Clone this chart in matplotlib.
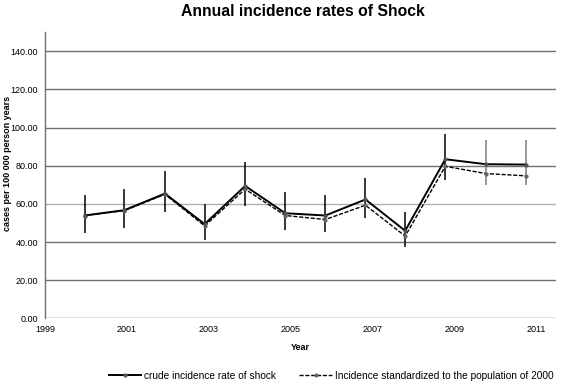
import matplotlib.pyplot as plt

plt.rcParams['font.family'] = ['Liberation Sans', 'DejaVu Sans']

# point positions on the year axis
years = [1999.97, 2000.94, 2001.93, 2002.90, 2003.89, 2004.87,
         2005.85, 2006.83, 2007.80, 2008.78, 2009.77, 2010.75]
crude = [53.9, 56.7, 65.4, 49.4, 69.4, 55.1, 53.9, 62.3, 45.9, 83.4, 80.8, 80.6]
crude_lo = [44.8, 47.4, 55.5, 40.8, 59.0, 46.1, 45.0, 52.8, 37.5, 72.4, 69.8, 69.8]
crude_hi = [64.5, 68.0, 77.1, 59.8, 81.7, 66.0, 64.5, 73.6, 55.5, 96.5, 93.4, 93.4]
standard = [53.9, 56.5, 65.0, 48.5, 67.7, 53.9, 51.8, 59.3, 43.1, 79.7, 75.9, 74.7]

yticks = [0, 20, 40, 60, 80, 100, 120, 140]
xticks = [1999, 2001, 2003, 2005, 2007, 2009, 2011]

fig = plt.figure(figsize=(5.66, 3.82), dpi=100)
ax = fig.add_axes([0.0795, 0.1667, 0.9025, 0.749])

# gridlines (60 drawn lighter, as in the original)
for v in yticks:
    col = '#b0b0b0' if v == 60 else '#707070'
    ax.axhline(v, color=col, lw=1.0, zorder=1)

# confidence intervals
for i, x in enumerate(years):
    col = '#7a7a7a' if i >= 10 else 'black'
    ax.vlines(x, crude_lo[i], crude_hi[i], color=col, lw=1.1, zorder=2)

ax.plot(years, standard, color='black', ls=(0, (3, 1.2)), lw=1.0,
        marker='o', ms=2, mfc='#666666', mec='#666666', zorder=3,
        label='Incidence standardized to the population of 2000')
ax.plot(years, crude, color='black', lw=1.4,
        marker='o', ms=2, mfc='#555555', mec='#555555', zorder=4,
        label='crude incidence rate of shock')

ax.set_xlim(1999, 2011.48)
ax.set_ylim(0, 150)
ax.set_xticks(xticks)
ax.set_xticklabels([str(x) for x in xticks])
ax.set_yticks(yticks)
ax.set_yticklabels([f'{v:.2f}' for v in yticks])
ax.tick_params(length=0, labelsize=6.5, pad=5)

for s in ['top', 'right', 'bottom']:
    ax.spines[s].set_visible(False)
ax.spines['left'].set_color('#707070')
ax.spines['left'].set_linewidth(1.0)

ax.set_xlabel('Year', fontsize=6.5, fontweight='bold', labelpad=6)
fig.text(8 / 566, 1 - 163 / 382, 'cases per 100 000 person years',
         rotation=90, fontsize=6.5, fontweight='bold',
         ha='center', va='center')
fig.text(0.535, 1 - 11 / 382, 'Annual incidence rates of Shock',
         fontsize=11.3, fontweight='bold', ha='center', va='center')

h, l = ax.get_legend_handles_labels()
fig.legend(h[::-1], l[::-1], loc='center', ncol=2, frameon=False,
           fontsize=7.3, bbox_to_anchor=(0.585, 1 - 376 / 382),
           handlelength=3.2, handletextpad=0.3, columnspacing=2.3)

fig.savefig('out.png', dpi=100)
